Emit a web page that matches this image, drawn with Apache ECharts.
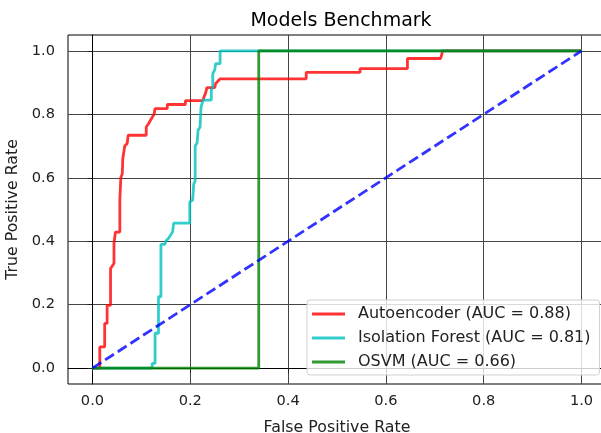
<!DOCTYPE html>
<html>
<head>
    <meta charset="utf-8">
    <script type="text/javascript" src="https://cdn.jsdelivr.net/npm/echarts@6/dist/echarts.min.js"></script>
</head>
<body style="margin:0; background-color:#fff">
<div id="main" style="width:601px;height:433px;"></div>
<script type="text/javascript">
    // ROC points: [false positive rate, true positive rate]
    var autoencoder = [
        [0, 0], [0.015, 0], [0.015, 0.067], [0.025, 0.067], [0.025, 0.141], [0.030, 0.141],
        [0.030, 0.198], [0.037, 0.198], [0.037, 0.314], [0.044, 0.33], [0.044, 0.393],
        [0.047, 0.429], [0.056, 0.429], [0.056, 0.53], [0.057, 0.53], [0.058, 0.60],
        [0.061, 0.613], [0.062, 0.66], [0.064, 0.666], [0.066, 0.70], [0.071, 0.708],
        [0.073, 0.734], [0.110, 0.734], [0.110, 0.76], [0.115, 0.771], [0.118, 0.78],
        [0.122, 0.786], [0.126, 0.80], [0.128, 0.818], [0.153, 0.818], [0.153, 0.831],
        [0.190, 0.831], [0.190, 0.843], [0.226, 0.843], [0.228, 0.855], [0.231, 0.865],
        [0.234, 0.884], [0.250, 0.884], [0.252, 0.897], [0.255, 0.90], [0.261, 0.912],
        [0.437, 0.912], [0.437, 0.932], [0.547, 0.932], [0.547, 0.944], [0.644, 0.944],
        [0.644, 0.976], [0.712, 0.976], [0.716, 1.0], [1, 1]
    ];
    var isolationForest = [
        [0, 0], [0.122, 0], [0.122, 0.015], [0.128, 0.015], [0.128, 0.11], [0.135, 0.11],
        [0.135, 0.225], [0.140, 0.225], [0.140, 0.39], [0.148, 0.39], [0.150, 0.40],
        [0.156, 0.41], [0.160, 0.42], [0.164, 0.43], [0.166, 0.457], [0.199, 0.457],
        [0.199, 0.524], [0.205, 0.53], [0.207, 0.58], [0.210, 0.59], [0.210, 0.70],
        [0.214, 0.71], [0.216, 0.75], [0.220, 0.76], [0.222, 0.823], [0.226, 0.845],
        [0.243, 0.845], [0.243, 0.876], [0.246, 0.885], [0.246, 0.928], [0.250, 0.94],
        [0.252, 0.96], [0.261, 0.96], [0.261, 1.0], [1, 1]
    ];
    var osvm = [[0, 0], [0.34, 0], [0.34, 1], [1, 1]];
    var chance = [[0, 0], [1, 1]];
    var seriesNames = ['Autoencoder (AUC = 0.88)', 'Isolation Forest (AUC = 0.81)', 'OSVM (AUC = 0.66)'];
    var tickValues = [0, 0.2, 0.4, 0.6, 0.8, 1.0];

    var fontFamily = '"DejaVu Sans", sans-serif';

    function valueAxis(name, gap, labelMargin) {
        return {
            type: 'value',
            min: -0.05,
            max: 1.05,
            name: name,
            nameLocation: 'middle',
            nameGap: gap,
            nameTextStyle: { color: '#222', fontSize: 15.8, fontFamily: fontFamily },
            axisLine: { show: true, lineStyle: { color: '#000', width: 1 } },
            axisTick: { show: true, length: 5, customValues: tickValues, lineStyle: { color: '#222' } },
            axisLabel: {
                customValues: tickValues, color: '#222', fontSize: 14.6, fontFamily: fontFamily,
                margin: labelMargin,
                formatter: function (v) { return v.toFixed(1); }
            },
            splitLine: { show: true, customValues: tickValues, lineStyle: { color: '#454545', width: 1 } }
        };
    }

    function line(name, data, color, dashed) {
        return {
            name: name,
            type: 'line',
            data: data,
            symbol: 'none',
            animation: false,
            lineStyle: { color: color, width: 2.8, type: dashed ? [10.5, 4.6] : 'solid' },
            itemStyle: { color: color }
        };
    }

    var myChart = echarts.init(document.getElementById('main'));
    var option = {
        animation: false,
        title: {
            text: 'Models Benchmark',
            left: 336,
            textAlign: 'center',
            top: 7,
            textStyle: { color: '#000', fontSize: 19, fontWeight: 'normal', fontFamily: fontFamily }
        },
        grid: {
            left: 68, top: 35, right: -5, height: 349,
            outerBoundsMode: 'none',
            containLabel: false,
            show: true, borderColor: '#000', borderWidth: 1
        },
        xAxis: valueAxis('False Positive Rate', 36, 10),
        yAxis: valueAxis('True Positive Rate', 46, 13),
        legend: {
            data: seriesNames,
            orient: 'vertical',
            left: 307,
            top: 300,
            itemWidth: 33,
            itemHeight: 3,
            itemGap: 8,
            icon: 'rect',
            padding: [6, 9, 5, 5],
            backgroundColor: 'rgba(255,255,255,0.8)',
            borderColor: '#d0d0d0',
            borderWidth: 1,
            borderRadius: 3,
            textStyle: { color: '#222', fontSize: 16, fontFamily: fontFamily, padding: [0, 0, 0, 8] }
        },
        series: [
            line(seriesNames[0], autoencoder, 'rgba(255,0,0,0.8)'),
            line(seriesNames[1], isolationForest, 'rgba(0,191,191,0.8)'),
            line(seriesNames[2], osvm, 'rgba(0,128,0,0.8)'),
            line('chance', chance, 'rgba(0,0,255,0.8)', true)
        ]
    };
    myChart.setOption(option);
</script>
</body>
</html>
